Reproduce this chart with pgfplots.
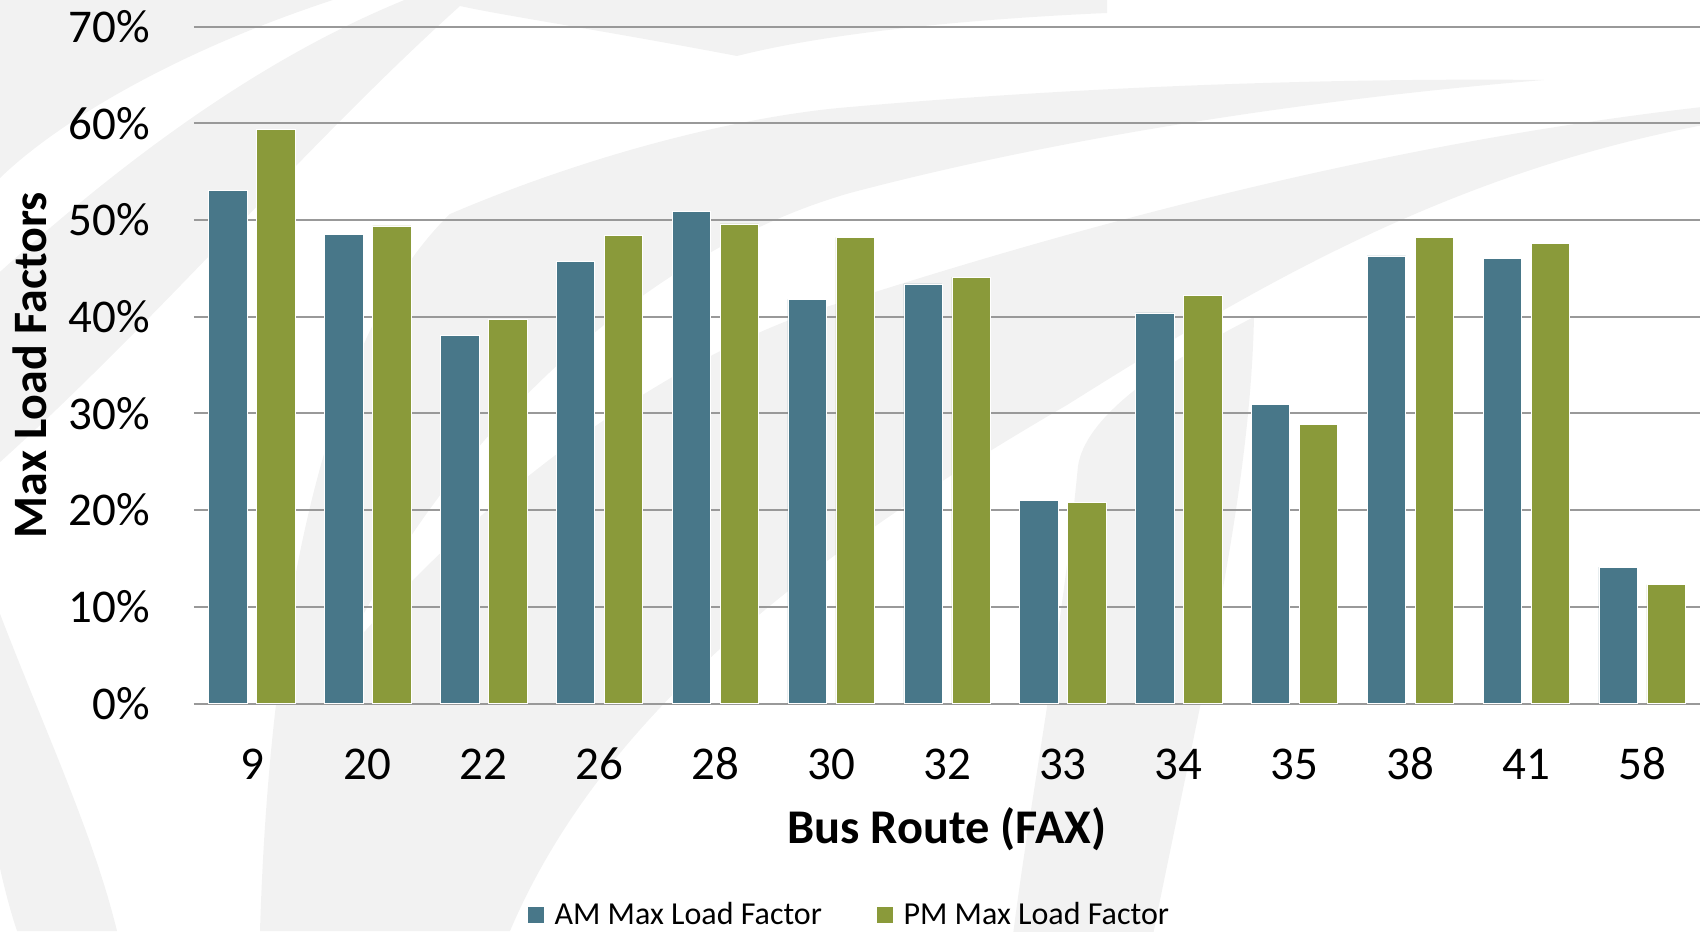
\documentclass[border=0pt]{standalone}
\usepackage{pgfplots}
\pgfplotsset{compat=1.18}
\usepackage{fontspec}
\setmainfont{Carlito}
\definecolor{amc}{HTML}{487789}
\definecolor{pmc}{HTML}{8A9A3A}
\definecolor{gridc}{HTML}{999999}
\definecolor{bgc}{HTML}{F2F2F2}
\begin{document}
\begin{tikzpicture}
\path[use as bounding box] (-97pt,-113.75pt) rectangle (753pt,351.75pt);
% faint background watermark (decoration only), in pixel units from top-left
\begin{scope}[shift={(-97pt,351.75pt)}, x=0.5pt, y=-0.5pt]
\clip (0,0) rectangle (1700,931);
\fill[bgc] (17,931) .. controls (0,880) and (-10,820) .. (-20,760) -- (-20,560) .. controls (30,700) and (90,820) .. (117,931) -- cycle;
\fill[bgc] (-20,-20) -- (333,-20) -- (333,0) .. controls (180,50) and (60,120) .. (0,178) -- (-20,178) -- cycle;
\fill[bgc] (-20,290) .. controls (100,180) and (250,60) .. (417,-5) -- (1107,-5) -- (1107,13) .. controls (950,20) and (820,35) .. (737,56) .. controls (600,30) and (500,15) .. (460,6) .. controls (300,150) and (150,330) .. (-20,480) -- cycle;
\fill[bgc] (260,931) .. controls (270,600) and (330,330) .. (450,214) .. controls (600,150) and (750,115) .. (850,107) .. controls (1100,85) and (1350,78) .. (1544,80)
  .. controls (1300,100) and (1050,140) .. (850,193) .. controls (650,250) and (450,430) .. (340,660)
  .. controls (500,470) and (700,340) .. (850,300) .. controls (1100,220) and (1400,140) .. (1720,105)
  -- (1720,122) .. controls (1450,170) and (1250,290) .. (1067,405) .. controls (800,560) and (600,720) .. (510,931) -- cycle;
\fill[bgc] (1254,317) .. controls (1150,370) and (1085,420) .. (1078,466) .. controls (1060,650) and (1030,800) .. (1013,935) -- (1153,935) .. controls (1200,700) and (1250,500) .. (1254,317) -- cycle;
\end{scope}
\begin{axis}[
  at={(0,0)}, anchor=south west,
  scale only axis,
  width=753pt, height=338.4pt,
  ymin=0, ymax=70,
  xmin=-0.5, xmax=12.5,
  ybar=4.8pt, bar width=19.2pt,
  xtick=data,
  xticklabels={9,20,22,26,28,30,32,33,34,35,38,41,58},
  ytick={0,10,20,30,40,50,60,70},
  yticklabel={\pgfmathprintnumber{\tick}\%},
  /pgf/number format/assume math mode=true,
  tick label style={font=\fontsize{23.5}{28}\selectfont},
  xticklabel style={anchor=base, yshift=-38pt},
  yticklabel style={xshift=-18.5pt},
  major tick length=0pt,
  axis x line*=bottom,
  axis y line*=left,
  y axis line style={draw=none},
  x axis line style={draw=gridc, line width=1pt},
  ymajorgrids,
  grid style={draw=gridc, line width=1pt},
  xlabel={\textbf{Bus Route (FAX)}},
  xlabel style={font=\fontsize{24.2}{29}\selectfont, at={(axis description cs:0.5,0)}, anchor=center, yshift=-63pt},
  ylabel={\textbf{Max Load Factors}},
  ylabel style={font=\fontsize{24}{29}\selectfont, at={(axis description cs:0,0.5)}, anchor=center, yshift=82pt},
  legend style={at={(328pt,-105.5pt)}, anchor=center, draw=none, fill=none,
    legend columns=2, font=\fontsize{16}{19}\selectfont,
    /tikz/every odd column/.append style={column sep=3pt},
    /tikz/every even column/.append style={column sep=25pt}},
  legend image code/.code={\fill[#1] (0pt,-4.25pt) rectangle (8.5pt,4.25pt);},
  clip=false,
]
\addplot[fill=amc, draw=white, line width=0.3pt] coordinates {
(0,53.1) (1,48.5) (2,38.1) (3,45.7) (4,50.9) (5,41.8) (6,43.4) (7,21.0) (8,40.4) (9,30.9) (10,46.3) (11,46.0) (12,14.1)};
\addplot[fill=pmc, draw=white, line width=0.3pt] coordinates {
(0,59.4) (1,49.4) (2,39.7) (3,48.4) (4,49.6) (5,48.2) (6,44.1) (7,20.8) (8,42.2) (9,28.9) (10,48.2) (11,47.6) (12,12.3)};
\legend{AM Max Load Factor, PM Max Load Factor}
\end{axis}
\end{tikzpicture}
\end{document}
